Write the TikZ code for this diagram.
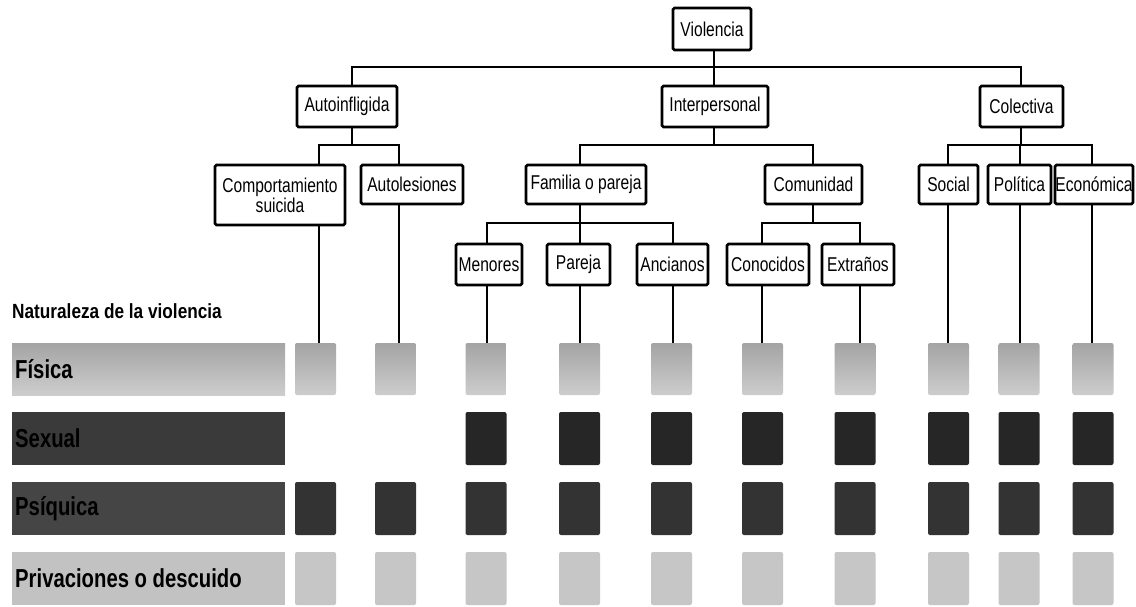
\documentclass[tikz,border=0pt]{standalone}
\usepackage{fontspec}
\setmainfont{Liberation Sans}
\newfontfamily\boxfont[FakeStretch=0.78]{Liberation Sans}
\newfontfamily\barfont[FakeStretch=0.78]{Liberation Sans}
\newfontfamily\headfont[FakeStretch=0.84]{Liberation Sans}
\definecolor{fisTop}{HTML}{A4A4A4}
\definecolor{fisBot}{HTML}{CDCDCD}
\definecolor{sexBar}{HTML}{3A3A3A}
\definecolor{sexSq}{HTML}{262626}
\definecolor{psiBar}{HTML}{454545}
\definecolor{psiSq}{HTML}{333333}
\definecolor{priBar}{HTML}{C2C2C2}
\definecolor{priSq}{HTML}{C6C6C6}
\tikzset{
  bx/.style={draw, line width=2.6pt, rounded corners=1.5pt, fill=white, inner sep=0pt,
    font=\boxfont\fontsize{20}{20}\selectfont, align=center, minimum height=41pt},
  ln/.style={line width=2.1pt},
  sqbox/.style={minimum width=41pt, inner sep=0pt, rounded corners=2pt},
  barbox/.style={minimum width=273pt, inner sep=0pt},
  rowA/.style={top color=fisTop, bottom color=fisBot, minimum height=52pt},
  rowB/.style={fill=sexSq, minimum height=53pt},
  rowC/.style={fill=psiSq, minimum height=53pt},
  rowD/.style={fill=priSq, minimum height=53pt},
  barlabel/.style={anchor=west, inner sep=0pt, font=\barfont\bfseries\fontsize{26}{26}\selectfont, text=black},
}
\begin{document}
\begin{tikzpicture}[x=1pt,y=-1pt]
\fill[white] (0,0) rectangle (1136,606);
\useasboundingbox (0,0) rectangle (1136,606);

% column and bus coordinates
\coordinate (xa) at (352,0);
\coordinate (xv) at (714,0);
\coordinate (xc) at (1021,0);
\coordinate (xcomu) at (813,0);
\coordinate (y1) at (0,67);
\coordinate (y2) at (0,145);
\coordinate (y3) at (0,223);
\coordinate (c1) at (319,0);
\coordinate (c2) at (399,0);
\coordinate (c3) at (487,0);
\coordinate (c4) at (580,0);
\coordinate (c5) at (673,0);
\coordinate (c6) at (762,0);
\coordinate (c7) at (860,0);
\coordinate (c8) at (948,0);
\coordinate (c9) at (1020,0);
\coordinate (c10) at (1092,0);

% boxes
\node[bx, minimum width=78pt, minimum height=42pt] (viol) at (712,29) {Violencia};
\node[bx, minimum width=100pt] (auto) at (347,106.5) {Autoinfligida};
\node[bx, minimum width=106pt] (inter) at (715,106.5) {Interpersonal};
\node[bx, minimum width=83pt] (colec) at (1021.5,106.5) {Colectiva};

\node[bx, minimum width=130pt, minimum height=60pt] (comp) at (280,195) {Comportamiento\\suicida};
\node[bx, minimum width=102pt, minimum height=39pt] (autol) at (412,184.5) {Autolesiones};
\node[bx, minimum width=120pt, minimum height=39pt] (fam) at (586,184.5) {Familia o pareja};
\node[bx, minimum width=97pt, minimum height=39pt] (comu) at (813.5,184.5) {Comunidad};
\node[bx, minimum width=59pt, minimum height=39pt] (soc) at (948.5,184.5) {Social};
\node[bx, minimum width=63pt, minimum height=39pt] (pol) at (1019.5,184.5) {Política};
\node[bx, minimum width=78pt, minimum height=39pt] (eco) at (1094,184.5) {Económica};

\node[bx, minimum width=66pt] (men) at (489,264.5) {Menores};
\node[bx, minimum width=63pt] (par) at (578.5,264.5) {Pareja};
\node[bx, minimum width=71pt] (anc) at (672.5,264.5) {Ancianos};
\node[bx, minimum width=82pt] (cono) at (768,264.5) {Conocidos};
\node[bx, minimum width=72pt] (extr) at (858,264.5) {Extraños};

% tree connectors
\draw[ln] (xv |- viol.south) -- (xv |- y1);
\draw[ln] (xa |- auto.north) -- (xa |- y1) -- (xc |- y1) -- (xc |- colec.north);
\draw[ln] (xv |- y1) -- (xv |- inter.north);

\draw[ln] (xa |- auto.south) -- (xa |- y2);
\draw[ln] (c1 |- comp.north) -- (c1 |- y2) -- (c2 |- y2) -- (c2 |- autol.north);

\draw[ln] (xv |- inter.south) -- (xv |- y2);
\draw[ln] (c4 |- fam.north) -- (c4 |- y2) -- (xcomu |- y2) -- (xcomu |- comu.north);

\draw[ln] (xc |- colec.south) -- (xc |- y2);
\draw[ln] (c8 |- soc.north) -- (c8 |- y2) -- (c10 |- y2) -- (c10 |- eco.north);
\draw[ln] (c9 |- y2) -- (c9 |- pol.north);

\draw[ln] (c4 |- fam.south) -- (c4 |- y3);
\draw[ln] (c3 |- men.north) -- (c3 |- y3) -- (c5 |- y3) -- (c5 |- anc.north);
\draw[ln] (c4 |- y3) -- (c4 |- par.north);

\draw[ln] (xcomu |- comu.south) -- (xcomu |- y3);
\draw[ln] (c6 |- cono.north) -- (c6 |- y3) -- (c7 |- y3) -- (c7 |- extr.north);

% heading
\node[anchor=west, inner sep=0pt, font=\headfont\bfseries\fontsize{20.5}{21}\selectfont] (nat) at (12,311) {Naturaleza de la violencia};

% bars
\node[barbox, rowA] (barA) at (148.5,369) {};
\node[barbox, fill=sexBar, minimum height=53pt] (barB) at (148.5,438.5) {};
\node[barbox, fill=psiBar, minimum height=53pt] (barC) at (148.5,508.5) {};
\node[barbox, fill=priBar, minimum height=53pt] (barD) at (148.5,578.5) {};
\node[barlabel] (lA) at (15,369) {Física};
\node[barlabel] (lB) at (15,438.5) {Sexual};
\node[barlabel] (lC) at (15,508.5) {Psíquica};
\node[barlabel] (lD) at (15,578.5) {Privaciones o descuido};

% squares
\foreach \i/\cx in {1/315.5,2/395.5,3/486,4/579.5,5/671.5,6/762.5,7/855,8/948.5,9/1019,10/1093}{
  \node[sqbox, rowA] (sA-\i) at (\cx,369) {};
  \node[sqbox, rowC] (sC-\i) at (\cx,508.5) {};
  \node[sqbox, rowD] (sD-\i) at (\cx,578.5) {};
}
\foreach \i/\cx in {3/486,4/579.5,5/671.5,6/762.5,7/855,8/948.5,9/1019,10/1093}{
  \node[sqbox, rowB] (sB-\i) at (\cx,438.5) {};
}

% leaf connectors down to the squares
\draw[ln] (c1 |- comp.south) -- (c1 |- sA-1.north);
\draw[ln] (c2 |- autol.south) -- (c2 |- sA-2.north);
\draw[ln] (c3 |- men.south) -- (c3 |- sA-3.north);
\draw[ln] (c4 |- par.south) -- (c4 |- sA-4.north);
\draw[ln] (c5 |- anc.south) -- (c5 |- sA-5.north);
\draw[ln] (c6 |- cono.south) -- (c6 |- sA-6.north);
\draw[ln] (c7 |- extr.south) -- (c7 |- sA-7.north);
\draw[ln] (c8 |- soc.south) -- (c8 |- sA-8.north);
\draw[ln] (c9 |- pol.south) -- (c9 |- sA-9.north);
\draw[ln] (c10 |- eco.south) -- (c10 |- sA-10.north);
\end{tikzpicture}
\end{document}
